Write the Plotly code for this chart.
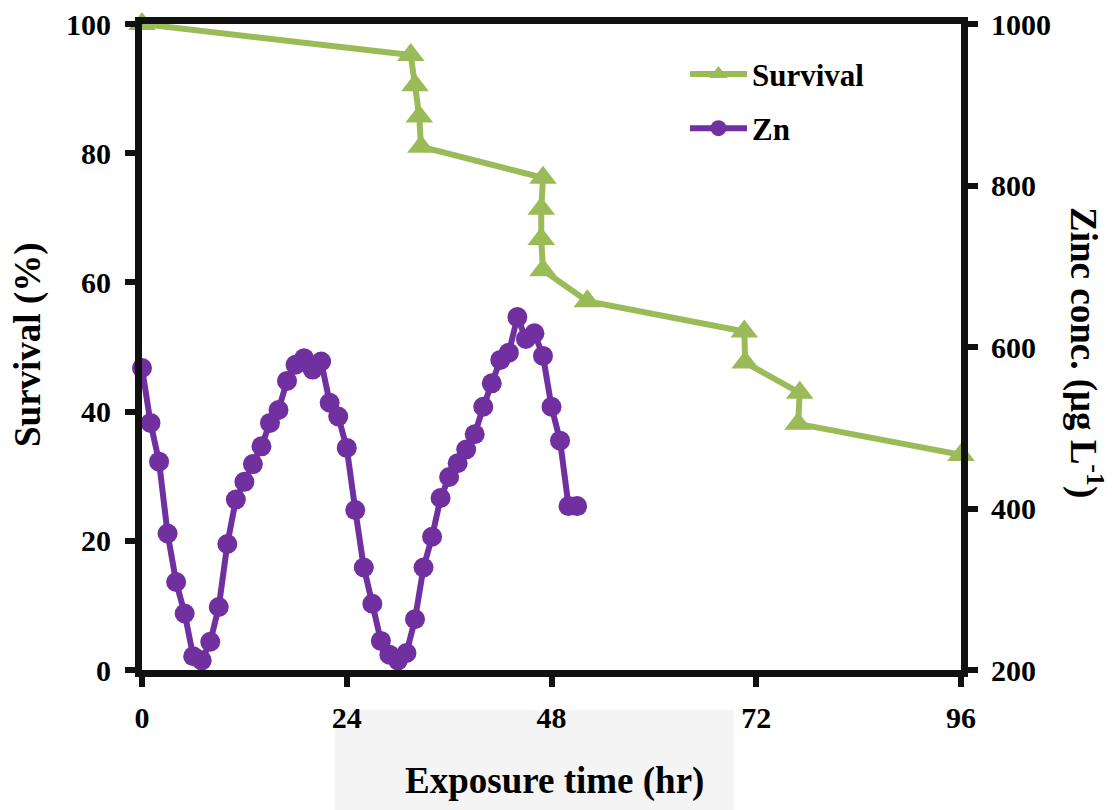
import plotly.graph_objects as go

# ---- data ----
surv_time = [0, 31.5, 32, 32.5, 32.7, 47, 46.8, 46.8, 47, 52.2, 70.6, 70.7, 77.1, 76.9, 96]
surv_pct = [100, 95.2, 90.5, 85.7, 81.0, 76.2, 71.4, 66.7, 61.9, 57.1, 52.4, 47.6, 42.9, 38.1, 33.3]

zn_time = list(range(0, 52))
zn_conc = [574, 506, 458, 369, 309, 270, 217, 212, 235, 278,
           356, 411, 433, 455, 477, 506, 522, 558, 578, 586,
           572, 582, 531, 514, 475, 398, 327, 282, 236, 219,
           212, 221, 263, 327, 365, 413, 439, 456, 473, 492,
           526, 555, 584, 593, 637, 610, 617, 589, 526, 484,
           403, 403]

x_ticks = [0, 24, 48, 72, 96]
y1_ticks = [0, 20, 40, 60, 80, 100]
y2_ticks = [200, 400, 600, 800, 1000]

FONT = "Times New Roman, Liberation Serif, serif"
GREEN = "#9BBB59"
PURPLE = "#7030A0"

fig = go.Figure()
fig.add_trace(go.Scatter(
    x=surv_time, y=surv_pct, name="Survival", mode="lines+markers",
    line=dict(color=GREEN, width=6),
    marker=dict(symbol="triangle-up", size=24, color=GREEN),
    cliponaxis=False, legendgroup="a", yaxis="y"))
fig.add_trace(go.Scatter(
    x=zn_time, y=zn_conc, name="Zn", mode="lines+markers",
    line=dict(color=PURPLE, width=6),
    marker=dict(symbol="circle", size=20, color=PURPLE),
    cliponaxis=False, legendgroup="b", yaxis="y2"))

tickfont = dict(family=FONT, size=30, color="black", weight="bold")
axis_common = dict(showline=True, linecolor="#111111", linewidth=7,
                   ticks="outside", ticklen=10, tickwidth=6, tickcolor="#111111",
                   showgrid=False, zeroline=False, tickfont=tickfont, automargin=False)

fig.update_layout(
    width=1113, height=810,
    margin=dict(l=142, r=152, t=24, b=140),
    paper_bgcolor="white", plot_bgcolor="white",
    font=dict(family=FONT, color="black"),
    xaxis=dict(range=[0, 96], tickvals=x_ticks, mirror=True,
               ticklabelstandoff=5, **axis_common),
    yaxis=dict(range=[0, 100], tickvals=y1_ticks, ticklabelstandoff=8, **axis_common),
    yaxis2=dict(range=[200, 1000], tickvals=y2_ticks, overlaying="y", side="right",
                ticklabelstandoff=7, **axis_common),
    legend=dict(x=0.663, y=0.964, xanchor="left", yanchor="top",
                font=dict(family=FONT, size=31, color="black", weight="bold"),
                bgcolor="rgba(0,0,0,0)", traceorder="grouped", tracegroupgap=11,
                itemwidth=57),
    showlegend=True,
)

fig.add_shape(type="rect", xref="paper", yref="paper",
              x0=(335 - 142) / 819, x1=(734 - 142) / 819,
              y0=(670 - 810) / 646, y1=(670 - 710) / 646,
              fillcolor="#f4f4f4", line=dict(width=0), layer="below")

title_font = dict(family=FONT, size=37, color="black", weight="bold")
fig.add_annotation(text="Exposure time (hr)", xref="paper", yref="paper",
                   x=(554 - 142) / 819, y=(670 - 781) / 646, showarrow=False,
                   xanchor="center", yanchor="middle", font=title_font)
fig.add_annotation(text="Survival (%)", xref="paper", yref="paper",
                   x=(28 - 142) / 819, y=(670 - 345) / 646, showarrow=False,
                   textangle=-90, xanchor="center", yanchor="middle", font=title_font)
fig.add_annotation(text="Zinc conc. (μg L<sup>-1</sup>)", xref="paper", yref="paper",
                   x=(1086 - 142) / 819, y=(670 - 352) / 646, showarrow=False,
                   textangle=90, xanchor="center", yanchor="middle", font=title_font)

fig.write_html("out.html", post_script="document.body.style.margin='0';",
               config={"displayModeBar": False})
